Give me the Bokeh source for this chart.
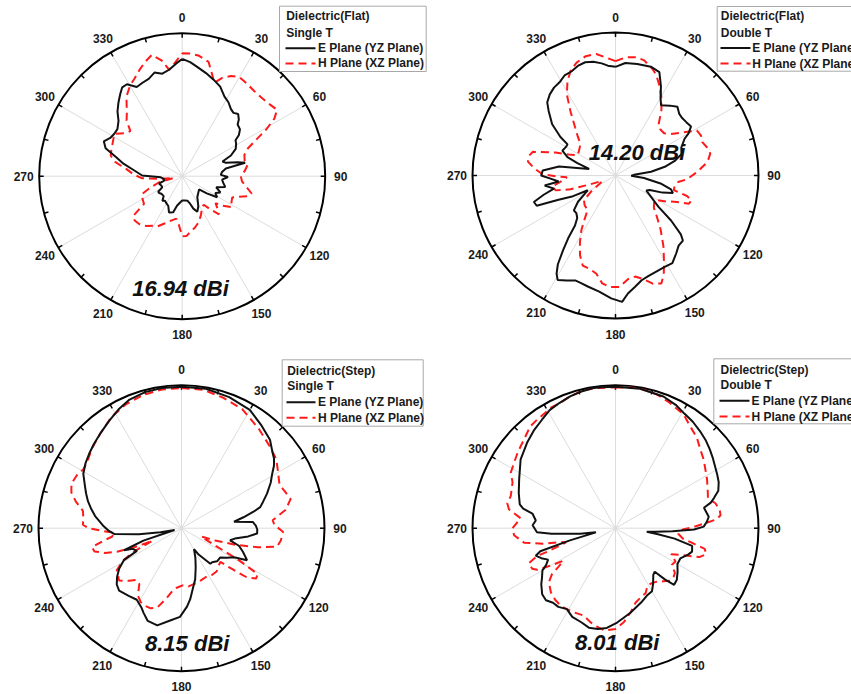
import numpy as np
from bokeh.plotting import figure
from bokeh.layouts import gridplot
from bokeh.models import Range1d
from bokeh.core.properties import value
from bokeh.embed import file_html
from bokeh.resources import INLINE

# Radiation patterns: (angle in degrees, normalized radius 0..1 on the polar grid)
E_FLAT_SINGLE = [(0, 0.82), (4, 0.80), (8, 0.77), (13, 0.74), (18, 0.71), (23, 0.68), (28, 0.63), (32, 0.61),
                 (36, 0.58), (39, 0.57), (42, 0.585), (45, 0.56), (47, 0.53), (51, 0.52), (54, 0.49), (56, 0.45),
                 (59, 0.44), (63, 0.42), (67, 0.37), (70, 0.30), (73, 0.32), (76, 0.40), (78, 0.45), (80, 0.31),
                 (84, 0.28), (88, 0.27), (91, 0.32), (95, 0.28), (99, 0.29), (104, 0.31), (108, 0.25), (113, 0.29),
                 (117, 0.26), (121, 0.285), (125, 0.21), (128, 0.15), (135, 0.16), (144, 0.18), (152, 0.24),
                 (157, 0.27), (161, 0.24), (164, 0.20), (168, 0.175), (174, 0.17), (180, 0.17), (186, 0.19),
                 (190, 0.21), (194, 0.26), (200, 0.27), (205, 0.23), (210, 0.22), (215, 0.21), (219, 0.22),
                 (223, 0.19), (230, 0.19), (234, 0.20), (237, 0.20), (241, 0.16), (246, 0.16), (252, 0.17),
                 (256, 0.13), (262, 0.13), (267, 0.15), (271, 0.28), (277, 0.34), (282, 0.42), (286, 0.48),
                 (290, 0.57), (294, 0.60), (298, 0.57), (302, 0.56), (306, 0.56), (311, 0.59), (315, 0.64),
                 (319, 0.68), (323, 0.72), (326, 0.75), (329, 0.75), (333, 0.70), (337, 0.71), (341, 0.72),
                 (345, 0.75), (349, 0.73), (353, 0.75), (357, 0.79)]
H_FLAT_SINGLE = [(0, 0.86), (4, 0.86), (8, 0.85), (13, 0.82), (16, 0.75), (19, 0.69), (22, 0.74), (26, 0.78),
                 (30, 0.80), (35, 0.79), (40, 0.78), (45, 0.78), (50, 0.79), (55, 0.81), (58, 0.76), (61, 0.67),
                 (64, 0.57), (67, 0.50), (71, 0.46), (76, 0.45), (80, 0.465), (85, 0.44), (90, 0.41), (95, 0.42),
                 (100, 0.46), (104, 0.50), (107, 0.48), (110, 0.42), (113, 0.38), (118, 0.39), (122, 0.41),
                 (126, 0.35), (129, 0.30), (133, 0.34), (136, 0.37), (140, 0.30), (143, 0.25), (148, 0.26),
                 (154, 0.30), (160, 0.34), (166, 0.37), (171, 0.39), (176, 0.42), (180, 0.42), (184, 0.34),
                 (188, 0.30), (194, 0.32), (200, 0.35), (206, 0.39), (210, 0.40), (216, 0.43), (222, 0.45),
                 (227, 0.455), (231, 0.44), (234, 0.33), (240, 0.32), (246, 0.31), (250, 0.24), (255, 0.17),
                 (259, 0.06), (263, 0.15), (267, 0.28), (272, 0.34), (277, 0.39), (282, 0.48), (286, 0.52),
                 (291, 0.53), (296, 0.54), (302, 0.56), (307, 0.50), (311, 0.48), (315, 0.55), (319, 0.59),
                 (325, 0.68), (330, 0.73), (334, 0.76), (338, 0.80), (342, 0.84), (346, 0.875), (350, 0.82),
                 (353, 0.75), (356, 0.79), (359, 0.84)]

E_FLAT_DOUBLE = [(0, 0.76), (5, 0.79), (11, 0.795), (18, 0.80), (23, 0.785), (27, 0.70), (30, 0.63), (33, 0.585),
                 (38, 0.62), (42, 0.647), (46, 0.62), (49, 0.615), (53, 0.62), (57, 0.63), (60, 0.59), (62, 0.547),
                 (67, 0.50), (72, 0.485), (76, 0.43), (80, 0.35), (84, 0.25), (88, 0.13), (91, 0.11), (95, 0.20),
                 (100, 0.32), (104, 0.40), (107, 0.42), (110, 0.35), (113, 0.26), (116, 0.24), (121, 0.29),
                 (126, 0.37), (129, 0.50), (132, 0.615), (134, 0.655), (138, 0.66), (142, 0.69), (147, 0.73),
                 (152, 0.726), (157, 0.73), (162, 0.74), (166, 0.755), (170, 0.79), (174, 0.83), (177, 0.885),
                 (182, 0.86), (188, 0.82), (194, 0.80), (198, 0.79), (201, 0.786), (205, 0.81), (209, 0.835),
                 (211, 0.80), (213, 0.74), (215, 0.64), (217, 0.55), (219, 0.45), (222, 0.40), (226, 0.38),
                 (230, 0.38), (235, 0.32), (240, 0.24), (242, 0.22), (244, 0.33), (247, 0.44), (249, 0.59),
                 (252, 0.60), (255, 0.52), (258, 0.44), (262, 0.50), (264, 0.40), (267, 0.45), (270, 0.52),
                 (274, 0.51), (279, 0.40), (284, 0.19), (288, 0.28), (291, 0.36), (295, 0.41), (300, 0.40),
                 (303, 0.40), (305, 0.47), (309, 0.57), (314, 0.65), (317, 0.70), (321, 0.73), (325, 0.75),
                 (329, 0.76), (333, 0.785), (337, 0.79), (341, 0.81), (345, 0.82), (349, 0.81), (353, 0.79),
                 (356, 0.77)]
H_FLAT_DOUBLE = [(0, 0.80), (5, 0.83), (10, 0.84), (14, 0.83), (19, 0.79), (22, 0.76), (26, 0.70), (30, 0.64),
                 (35, 0.56), (40, 0.47), (44, 0.45), (49, 0.45), (53, 0.48), (57, 0.55), (61, 0.65), (65, 0.66),
                 (69, 0.65), (73, 0.67), (77, 0.68), (80, 0.66), (83, 0.63), (86, 0.59), (89, 0.55), (93, 0.50),
                 (96, 0.44), (100, 0.42), (104, 0.42), (106, 0.52), (108, 0.56), (111, 0.55), (114, 0.45),
                 (117, 0.40), (121, 0.33), (125, 0.33), (130, 0.35), (135, 0.41), (140, 0.49), (146, 0.60),
                 (151, 0.70), (154, 0.77), (157, 0.82), (161, 0.80), (165, 0.75), (169, 0.72), (173, 0.73),
                 (178, 0.78), (183, 0.78), (187, 0.76), (191, 0.70), (195, 0.68), (200, 0.67), (204, 0.61),
                 (208, 0.53), (212, 0.45), (215, 0.38), (219, 0.31), (226, 0.30), (232, 0.28), (237, 0.20),
                 (243, 0.12), (248, 0.10), (251, 0.20), (253, 0.33), (256, 0.43), (260, 0.45), (264, 0.38),
                 (268, 0.34), (269, 0.41), (271, 0.51), (275, 0.57), (279, 0.62), (283, 0.62), (286, 0.60),
                 (289, 0.50), (291, 0.45), (294, 0.36), (298, 0.30), (305, 0.31), (312, 0.33), (316, 0.38),
                 (320, 0.44), (325, 0.55), (329, 0.66), (333, 0.74), (337, 0.80), (341, 0.835), (346, 0.86),
                 (351, 0.86), (355, 0.83)]

E_STEP_SINGLE = [(0, 0.99), (10, 0.99), (20, 0.975), (30, 0.955), (38, 0.91), (45, 0.875), (50, 0.83), (53, 0.81),
                 (56, 0.78), (59, 0.74), (63, 0.70), (68, 0.645), (72, 0.60), (75, 0.57), (77, 0.52), (80, 0.44),
                 (83, 0.37), (85, 0.50), (88, 0.52), (91, 0.53), (94, 0.53), (97, 0.47), (101, 0.38), (104, 0.35),
                 (107, 0.42), (111, 0.46), (116, 0.51), (119, 0.42), (123, 0.38), (127, 0.34), (133, 0.34),
                 (138, 0.32), (141, 0.32), (144, 0.26), (147, 0.22), (149, 0.17), (155, 0.23), (160, 0.29),
                 (165, 0.37), (170, 0.44), (173, 0.50), (176, 0.55), (181, 0.62), (187, 0.65), (194, 0.70),
                 (200, 0.69), (204, 0.65), (207, 0.62), (212, 0.59), (218, 0.60), (225, 0.617), (229, 0.60),
                 (233, 0.564), (237, 0.52), (241, 0.46), (243, 0.35), (247, 0.37), (249, 0.43), (252, 0.28),
                 (255, 0.05), (259, 0.15), (262, 0.30), (265, 0.47), (268, 0.51), (272, 0.55), (278, 0.61),
                 (282, 0.645), (286, 0.68), (290, 0.71), (294, 0.74), (299, 0.785), (304, 0.81), (309, 0.83),
                 (314, 0.85), (320, 0.875), (326, 0.905), (332, 0.94), (338, 0.97), (345, 0.985), (352, 0.99)]
H_STEP_SINGLE = [(0, 0.98), (9, 0.98), (18, 0.957), (27, 0.935), (38, 0.88), (47, 0.842), (54, 0.82), (60, 0.78),
                 (66, 0.75), (71, 0.77), (75, 0.79), (80, 0.74), (85, 0.64), (88, 0.65), (92, 0.71), (97, 0.70),
                 (101, 0.68), (104, 0.55), (107, 0.40), (110, 0.25), (113, 0.15), (117, 0.25), (119, 0.45),
                 (121, 0.62), (124, 0.63), (127, 0.57), (129, 0.45), (131, 0.36), (136, 0.37), (141, 0.39),
                 (147, 0.39), (152, 0.38), (160, 0.39), (167, 0.40), (173, 0.41), (179, 0.40), (185, 0.42),
                 (188, 0.44), (192, 0.50), (197, 0.58), (201, 0.60), (205, 0.60), (209, 0.59), (213, 0.56),
                 (217, 0.49), (221, 0.48), (225, 0.52), (230, 0.57), (234, 0.55), (237, 0.54), (241, 0.47),
                 (244, 0.36), (246.5, 0.22), (248, 0.35), (250, 0.48), (252, 0.56), (255, 0.63), (258, 0.64),
                 (261, 0.55), (263, 0.49), (266, 0.47), (268, 0.55), (270, 0.65), (272, 0.69), (276, 0.69),
                 (280, 0.70), (284, 0.76), (288, 0.81), (292, 0.83), (297, 0.82), (301, 0.80), (306, 0.81),
                 (312, 0.84), (320, 0.875), (328, 0.92), (336, 0.95), (344, 0.97), (352, 0.98)]

E_STEP_DOUBLE = [(0, 0.99), (10, 0.99), (20, 0.98), (26, 0.96), (31, 0.935), (36, 0.92), (41, 0.90), (46, 0.88),
                 (50, 0.86), (54, 0.84), (58, 0.82), (62, 0.805), (66, 0.79), (70, 0.765), (73, 0.72), (75, 0.69),
                 (77, 0.635), (80, 0.645), (83, 0.657), (86, 0.64), (89, 0.617), (91, 0.55), (93, 0.40),
                 (95, 0.28), (96.5, 0.22), (98, 0.30), (100, 0.42), (103, 0.55), (107, 0.56), (110, 0.54),
                 (115, 0.50), (120, 0.50), (125, 0.53), (130, 0.56), (134, 0.57), (136, 0.50), (138, 0.41),
                 (141, 0.42), (146, 0.47), (150, 0.51), (155, 0.52), (161, 0.55), (166, 0.575), (170, 0.60),
                 (175, 0.63), (179, 0.66), (185, 0.70), (190, 0.716), (195, 0.72), (200, 0.70), (206, 0.69),
                 (211, 0.66), (216, 0.68), (220, 0.68), (224, 0.70), (228, 0.69), (233, 0.65), (236, 0.62),
                 (240, 0.59), (242, 0.55), (245, 0.52), (248, 0.56), (251, 0.59), (253, 0.55), (255, 0.33),
                 (258, 0.14), (261, 0.25), (263, 0.32), (265, 0.45), (267, 0.55), (272, 0.58), (275.5, 0.56),
                 (280, 0.59), (282, 0.66), (284, 0.69), (290, 0.72), (297, 0.756), (306, 0.82), (314, 0.86),
                 (320, 0.89), (326, 0.917), (331, 0.946), (336, 0.96), (341, 0.975), (346, 0.985), (351, 0.993),
                 (356, 0.99)]
H_STEP_DOUBLE = [(0, 0.985), (6, 0.99), (11, 0.99), (17, 0.98), (23, 0.957), (31, 0.927), (36, 0.885),
                 (42, 0.851), (47, 0.81), (52, 0.782), (57, 0.75), (62, 0.725), (67, 0.70), (72, 0.68), (76, 0.72),
                 (80, 0.74), (83, 0.74), (85, 0.71), (87, 0.62), (89, 0.55), (91, 0.47), (95, 0.44), (99, 0.48),
                 (101, 0.55), (103, 0.64), (106, 0.66), (109, 0.62), (112, 0.50), (115, 0.43), (119, 0.48),
                 (123, 0.47), (127, 0.52), (130, 0.53), (134, 0.53), (138, 0.50), (143, 0.47), (147, 0.46),
                 (151, 0.46), (155, 0.50), (160, 0.515), (165, 0.54), (170, 0.60), (175, 0.66), (180, 0.705),
                 (186, 0.72), (191, 0.70), (195, 0.68), (200, 0.65), (206, 0.656), (211, 0.66), (215, 0.664),
                 (220, 0.655), (225, 0.638), (231, 0.60), (234, 0.55), (236, 0.48), (238, 0.43), (240, 0.52),
                 (242, 0.62), (244, 0.648), (248, 0.654), (250.5, 0.58), (251, 0.50), (252, 0.44), (254, 0.36),
                 (256, 0.40), (258, 0.52), (261, 0.647), (266, 0.711), (270, 0.72), (276, 0.667), (280, 0.756),
                 (283, 0.777), (287, 0.766), (294, 0.788), (298, 0.829), (303, 0.845), (308, 0.866), (314, 0.891),
                 (320, 0.928), (324, 0.936), (332, 0.956), (336, 0.957), (341, 0.975), (346, 0.989), (352, 0.99)]

ANGLE_TICKS = [0, 30, 60, 90, 120, 150, 180, 210, 240, 270, 300, 330]
MINOR_TICKS = [a for a in range(0, 360, 15)]

STRUCTURES = ["Dielectric(Flat)", "Dielectric(Flat)", "Dielectric(Step)", "Dielectric(Step)"]
FEEDS = ["Single T", "Double T", "Single T", "Double T"]
PEAK_GAINS = ["16.94 dBi", "14.20 dBi", "8.15 dBi", "8.01 dBi"]
E_LABEL = "E Plane (YZ Plane)"
H_LABEL = "H Plane (XZ Plane)"

FONT = value("Liberation Sans")
S = 143.0          # pixels per unit radius

# panel layout: size, centre of the polar grid, gain label position, legend box (all in panel pixels)
LAYOUT = [
    dict(w=427, h=347, cx=181.7, cy=175.7, gain=(180, 288), box=(279, 425.7, 5.7, 71.0),
         text_x=285.7, rows=(15.7, 32.0, 47.7, 62.9), line=(285, 315), label_x=317.5),
    dict(w=424, h=347, cx=188.0, cy=175.0, gain=(209.5, 151.7), box=(289.7, 440, 6.0, 70.7),
         text_x=293.3, rows=(15.7, 32.0, 47.5, 63.0), line=(293, 323), label_x=324.7),
    dict(w=427, h=347, cx=181.0, cy=180.7, gain=(186.7, 296.0), box=(281.7, 422.7, 12.3, 78.7),
         text_x=286.7, rows=(23.7, 38.7, 54.7, 70.3), line=(286, 315), label_x=317.5),
    dict(w=424, h=347, cx=188.0, cy=180.7, gain=(189.7, 295.3), box=(286.3, 440, 11.3, 76.3),
         text_x=293.0, rows=(22.3, 37.3, 53.3, 69.0), line=(292, 322), label_x=324.0),
]


def polar_xy(pattern):
    ang = np.array([a for a, _ in pattern] + [pattern[0][0] + 360.0])
    rad = np.array([r for _, r in pattern] + [pattern[0][1]])
    th = np.radians(ang)
    return rad * np.sin(th), rad * np.cos(th)


def make_panel(lay, e_pat, h_pat, structure, feed, gain):
    cx, cy, w, h = lay["cx"], lay["cy"], lay["w"], lay["h"]

    def to_data(px, py):
        return (px - cx) / S, (cy - py) / S

    p = figure(width=w, height=h, x_range=Range1d(-cx / S, (w - cx) / S),
               y_range=Range1d(-(h - cy) / S, cy / S), output_backend="svg",
               toolbar_location=None, min_border=0)
    p.axis.visible = False
    p.grid.visible = False
    p.outline_line_color = None
    p.background_fill_color = "white"

    # angular grid
    sp = np.radians(ANGLE_TICKS)
    p.segment(x0=0, y0=0, x1=np.sin(sp), y1=np.cos(sp), line_color="#dcdcdc", line_width=1)
    mt = np.radians(MINOR_TICKS)
    inner = 1 - 4.5 / S
    p.segment(x0=inner * np.sin(mt), y0=inner * np.cos(mt), x1=np.sin(mt), y1=np.cos(mt),
              line_color="black", line_width=1.5)
    p.circle(x=0, y=0, radius=1, fill_color=None, line_color="black", line_width=2)

    lab_r = 1 + 15.5 / S
    p.text(x=lab_r * np.sin(sp), y=lab_r * np.cos(sp), text=[str(a) for a in ANGLE_TICKS],
           text_font=FONT, text_font_style="bold", text_font_size="12px", text_color="#1a1a1a",
           text_align="center", text_baseline="middle")

    # patterns
    ex, ey = polar_xy(e_pat)
    hx, hy = polar_xy(h_pat)
    p.line(hx, hy, line_color="#ff1a1a", line_width=2, line_dash="8 5")
    p.line(ex, ey, line_color="#111111", line_width=2)

    gx, gy = to_data(*lay["gain"])
    p.text(x=[gx], y=[gy], text=[gain], text_font=FONT, text_font_style="bold italic",
           text_font_size="22px", text_color="#111111", text_align="center", text_baseline="middle")

    # legend
    l, r, t, b = lay["box"]
    x0, y0 = to_data(l, t)
    x1, y1 = to_data(r, b)
    p.quad(left=x0, right=x1, top=y0, bottom=y1, fill_color="white", line_color="#a8a8a8", line_width=1)
    rows = lay["rows"]
    tx = (lay["text_x"] - cx) / S
    p.text(x=[tx, tx], y=[(cy - rows[0]) / S, (cy - rows[1]) / S], text=[structure, feed],
           text_font=FONT, text_font_style="bold", text_font_size="12px", text_color="#1a1a1a",
           text_align="left", text_baseline="middle")
    la, lb = lay["line"]
    p.line([(la - cx) / S, (lb - cx) / S], [(cy - rows[2]) / S] * 2, line_color="#111111", line_width=2)
    p.line([(la - cx) / S, (lb - cx) / S], [(cy - rows[3]) / S] * 2, line_color="#ff1a1a", line_width=2,
           line_dash="8 5")
    lx = (lay["label_x"] - cx) / S
    p.text(x=[lx, lx], y=[(cy - rows[2]) / S, (cy - rows[3]) / S], text=[E_LABEL, H_LABEL],
           text_font=FONT, text_font_style="bold", text_font_size="12px", text_color="#1a1a1a",
           text_align="left", text_baseline="middle")
    return p


patterns = [(E_FLAT_SINGLE, H_FLAT_SINGLE), (E_FLAT_DOUBLE, H_FLAT_DOUBLE),
            (E_STEP_SINGLE, H_STEP_SINGLE), (E_STEP_DOUBLE, H_STEP_DOUBLE)]
panels = [make_panel(LAYOUT[i], patterns[i][0], patterns[i][1], STRUCTURES[i], FEEDS[i], PEAK_GAINS[i])
          for i in range(4)]

grid = gridplot([[panels[0], panels[1]], [panels[2], panels[3]]], toolbar_location=None)

open("out.html", "w").write(file_html(grid, INLINE, title="Radiation patterns"))
